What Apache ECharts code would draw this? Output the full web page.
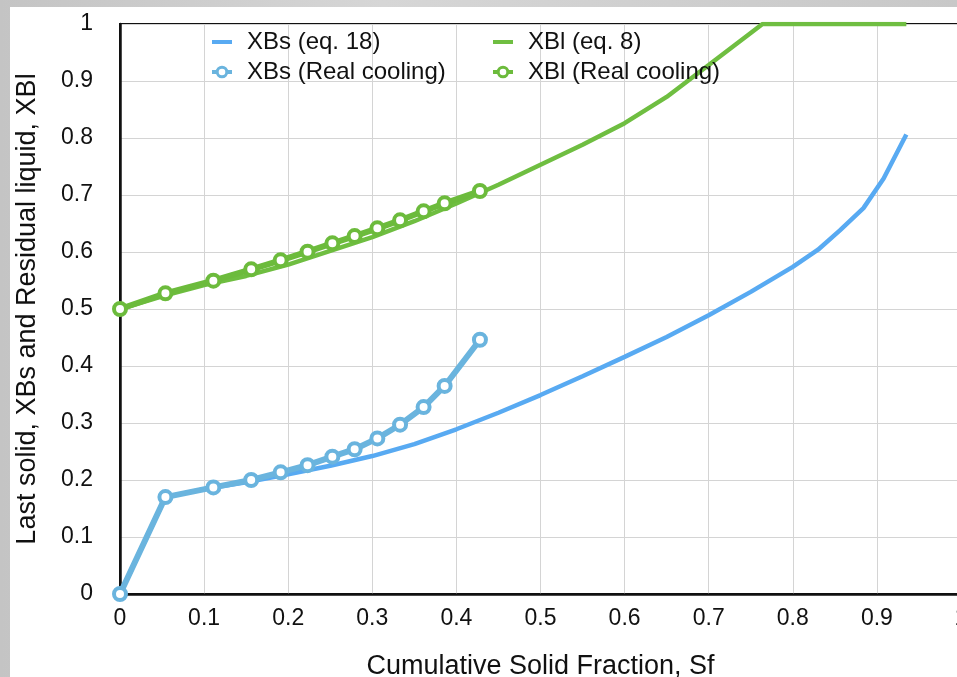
<!DOCTYPE html>
<html>
<head>
<meta charset="utf-8">
<script src="https://cdn.jsdelivr.net/npm/echarts@6/dist/echarts.min.js"></script>
<style>
  html, body { margin: 0; padding: 0; }
  body {
    width: 957px; height: 677px; overflow: hidden; position: relative;
    background: linear-gradient(90deg, #c4c4c4 0%, #d6d6d6 40%, #c8c8c8 100%);
  }
  #ec {
    position: absolute; left: 10px; top: 7px;
    width: 947px; height: 670px; background: #fff;
  }
</style>
</head>
<body>
<div id="ec"></div>
<script>
// 理论曲线 XBs (eq. 18)
var xbs_eq_x = [0, 0.054, 0.1, 0.15, 0.2, 0.25, 0.3, 0.35, 0.4, 0.45, 0.5, 0.55, 0.6, 0.65, 0.7, 0.75, 0.8, 0.83, 0.856, 0.884, 0.908, 0.935];
var xbs_eq_y = [0, 0.17, 0.184, 0.196, 0.21, 0.225, 0.242, 0.263, 0.289, 0.318, 0.349, 0.382, 0.416, 0.451, 0.489, 0.53, 0.574, 0.604, 0.638, 0.677, 0.729, 0.806];

// 理论曲线 XBl (eq. 8)
var xbl_eq_x = [0, 0.054, 0.1, 0.15, 0.2, 0.25, 0.3, 0.35, 0.4, 0.45, 0.5, 0.55, 0.6, 0.65, 0.7, 0.764, 0.935];
var xbl_eq_y = [0.5, 0.524, 0.542, 0.558, 0.578, 0.602, 0.626, 0.654, 0.685, 0.718, 0.753, 0.788, 0.826, 0.872, 0.928, 1.0, 1.0];

// 实际冷却数据
var real_x = [0, 0.054, 0.111, 0.156, 0.191, 0.223, 0.2525, 0.279, 0.306, 0.333, 0.361, 0.386, 0.428];
var xbs_real_y = [0, 0.17, 0.187, 0.2, 0.2135, 0.226, 0.241, 0.254, 0.273, 0.297, 0.328, 0.365, 0.446];
var xbl_real_y = [0.5, 0.5275, 0.5497, 0.5696, 0.5854, 0.6005, 0.6152, 0.628, 0.6415, 0.6556, 0.6714, 0.6854, 0.707];

function pairs(xs, ys) {
  return xs.map(function(x, i) { return [x, ys[i]]; });
}

var font = 'Liberation Sans, Arial, sans-serif';
var ec = echarts.init(document.getElementById('ec'));

var legend_base = {
  orient: 'vertical',
  top: 18,
  itemWidth: 20,
  itemHeight: 12,
  itemGap: 6,
  textStyle: { fontFamily: font, fontSize: 24, color: '#111', lineHeight: 24, padding: [0, 0, 0, 10] }
};

// 纯线条的图例 (不画圆点)
function line_item(name, color) {
  return { name: name, itemStyle: { opacity: 0 }, lineStyle: { width: 4, color: color } };
}
function mark_item(name, color) {
  return { name: name, lineStyle: { width: 4, color: color }, itemStyle: { color: '#fff', borderColor: color, borderWidth: 3 } };
}

var option = {
  animation: false,
  legend: [
    Object.assign({ left: 195, data: [line_item('XBs (eq. 18)', '#58aaf2'), mark_item('XBs (Real cooling)', '#6ab4de')] }, legend_base),
    Object.assign({ left: 476, data: [line_item('XBl (eq. 8)', '#6fbe41'), mark_item('XBl (Real cooling)', '#6cbb3c')] }, legend_base)
  ],
  grid: {
    left: 110, top: 17, bottom: 83, right: -4,
    outerBoundsMode: 'none',
    containLabel: false,
    show: true, borderColor: '#111', borderWidth: 2, backgroundColor: '#fff'
  },
  xAxis: {
    type: 'value', min: 0, max: 1, interval: 0.1,
    name: 'Cumulative Solid Fraction, Sf',
    nameLocation: 'middle', nameGap: 59,
    nameTextStyle: { fontFamily: font, fontSize: 27, color: '#111' },
    axisLine: { show: true, lineStyle: { color: '#111', width: 2.5 } },
    axisTick: { show: false },
    axisLabel: {
      fontFamily: font, fontSize: 23, color: '#111', margin: 13,
      formatter: function(v) { return String(+v.toFixed(1)); }
    },
    splitLine: { show: true, lineStyle: { color: '#d4d4d4', width: 1 } }
  },
  yAxis: {
    type: 'value', min: 0, max: 1, interval: 0.1,
    name: 'Last solid, XBs and Residual liquid, XBl',
    nameLocation: 'middle', nameGap: 79,
    nameTextStyle: { fontFamily: font, fontSize: 27, color: '#111' },
    axisLine: { show: true, lineStyle: { color: '#111', width: 2.5 } },
    axisTick: { show: false },
    axisLabel: {
      fontFamily: font, fontSize: 23, color: '#111', margin: 27,
      formatter: function(v) { return String(+v.toFixed(1)); }
    },
    splitLine: { show: true, lineStyle: { color: '#d4d4d4', width: 1 } }
  },
  series: [
    {
      name: 'XBs (eq. 18)', type: 'line', showSymbol: false, symbol: 'none',
      lineStyle: { color: '#58aaf2', width: 4.5 }, itemStyle: { color: '#58aaf2' },
      z: 2, data: pairs(xbs_eq_x, xbs_eq_y)
    },
    {
      name: 'XBs (Real cooling)', type: 'line', symbol: 'circle', symbolSize: 12,
      lineStyle: { color: '#6ab4de', width: 6 },
      itemStyle: { color: '#fff', borderColor: '#6ab4de', borderWidth: 4 },
      z: 3, data: pairs(real_x, xbs_real_y)
    },
    {
      name: 'XBl (eq. 8)', type: 'line', showSymbol: false, symbol: 'none',
      lineStyle: { color: '#6fbe41', width: 4.5 }, itemStyle: { color: '#6fbe41' },
      z: 2, data: pairs(xbl_eq_x, xbl_eq_y)
    },
    {
      name: 'XBl (Real cooling)', type: 'line', symbol: 'circle', symbolSize: 12,
      lineStyle: { color: '#6cbb3c', width: 6 },
      itemStyle: { color: '#fff', borderColor: '#6cbb3c', borderWidth: 4 },
      z: 3, data: pairs(real_x, xbl_real_y)
    }
  ]
};
ec.setOption(option);
</script>
</body>
</html>
